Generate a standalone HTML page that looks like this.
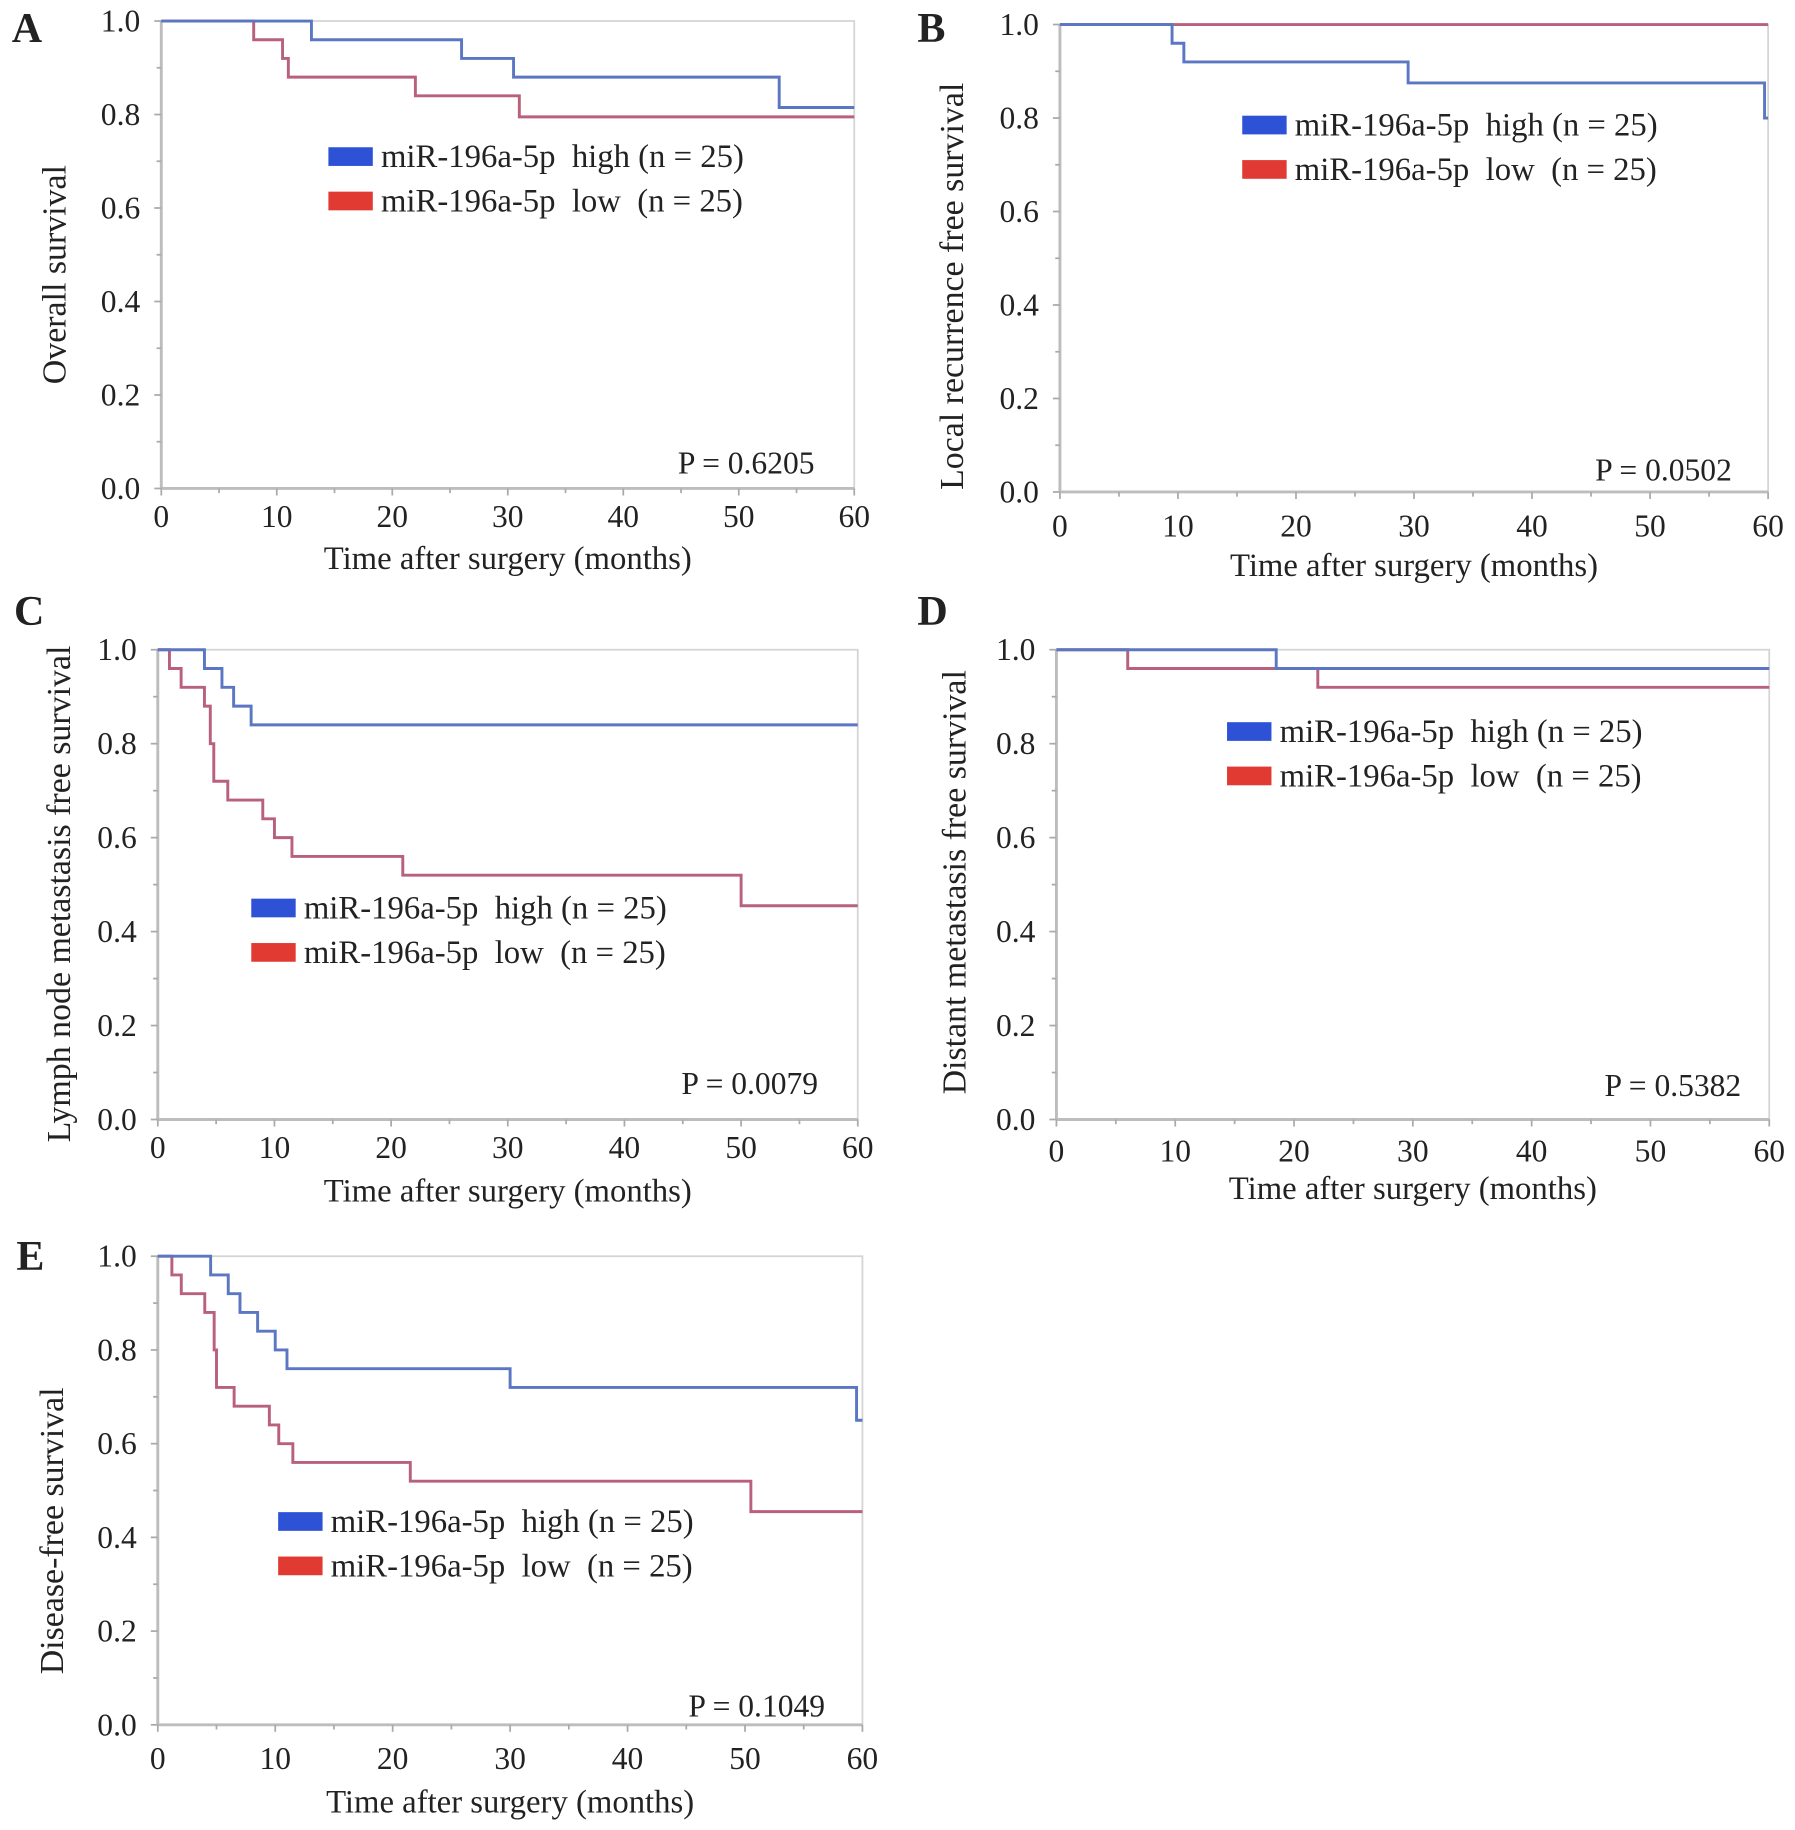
<!DOCTYPE html>
<html><head><meta charset="utf-8"><style>
html,body{margin:0;padding:0;background:#fff}
svg{display:block}
text{font-family:"Liberation Serif",serif;fill:#222;white-space:pre}
</style></head><body>
<svg id="fig" width="1795" height="1830" viewBox="0 0 1536 1566" xmlns="http://www.w3.org/2000/svg"></svg>
<script>
// Data arrays: [time, survival] step points
const xTicks = [0,10,20,30,40,50,60];
const yTicks = [0.0,0.2,0.4,0.6,0.8,1.0];
const aHighT=[0,13,26,30.5,53.5,60], aHighS=[1,0.96,0.92,0.88,0.815,0.815];
const aLowT=[0,8,10.5,11,22,31,60], aLowS=[1,0.96,0.92,0.88,0.84,0.795,0.795];
const bHighT=[0,9.5,10.5,29.5,59.7,60], bHighS=[1,0.96,0.92,0.875,0.8,0.8];
const bLowT=[0,60], bLowS=[1,1];
const cHighT=[0,4,5.5,6.5,8,60], cHighS=[1,0.96,0.92,0.88,0.84,0.84];
const cLowT=[0,1,2,4,4.5,4.8,6,9,10,11.5,21,50,60], cLowS=[1,0.96,0.92,0.88,0.8,0.72,0.68,0.64,0.6,0.56,0.52,0.455,0.455];
const dHighT=[0,18.5,60], dHighS=[1,0.96,0.96];
const dLowT=[0,6,22,60], dLowS=[1,0.96,0.92,0.92];
const eHighT=[0,4.5,6,7,8.5,10,11,30,59.5,60], eHighS=[1,0.96,0.92,0.88,0.84,0.8,0.76,0.72,0.65,0.65];
const eLowT=[0,1.2,2,4,4.8,5,6.5,9.5,10.3,11.5,21.5,50.5,60], eLowS=[1,0.96,0.92,0.88,0.8,0.72,0.68,0.64,0.6,0.56,0.52,0.455,0.455];
const pValues=["P = 0.6205","P = 0.0502","P = 0.0079","P = 0.5382","P = 0.1049"];
const yTitles=["Overall survival","Local recurrence free survival","Lymph node metastasis free survival","Distant metastasis free survival","Disease-free survival"];

const panels=[
 {id:'a',L:'A',lx:10,ly:36,x0:138,x1:731,y1:18,y0:418,tly:451,xl:487,yl:56,ylc:235,lgx:281,lgy:134,px:697,py:405,hT:aHighT,hS:aHighS,lT:aLowT,lS:aLowS},
 {id:'b',L:'B',lx:785,ly:36,x0:907,x1:1513,y1:21,y0:421,tly:459,xl:493,yl:824,ylc:245,lgx:1063,lgy:107,px:1482,py:411,hT:bHighT,hS:bHighS,lT:bLowT,lS:bLowS},
 {id:'c',L:'C',lx:12,ly:535,x0:135,x1:734,y1:556,y0:958,tly:991,xl:1028,yl:60,ylc:765,lgx:215,lgy:777,px:700,py:936,hT:cHighT,hS:cHighS,lT:cLowT,lS:cLowS},
 {id:'d',L:'D',lx:785,ly:535,x0:904,x1:1514,y1:556,y0:958,tly:994,xl:1026,yl:826,ylc:755,lgx:1050,lgy:626,px:1490,py:938,hT:dHighT,hS:dHighS,lT:dLowT,lS:dLowS},
 {id:'e',L:'E',lx:14,ly:1087,x0:135,x1:738,y1:1075,y0:1476,tly:1514,xl:1551,yl:54,ylc:1310,lgx:238,lgy:1302,px:706,py:1469,hT:eHighT,hS:eHighS,lT:eLowT,lS:eLowS}
];
const svg=document.getElementById('fig');
const NS='http://www.w3.org/2000/svg';
function mk(tag,attrs,parent,txt){const e=document.createElementNS(NS,tag);for(const k in attrs)e.setAttribute(k,attrs[k]);if(txt!==undefined)e.textContent=txt;parent.appendChild(e);return e;}
panels.forEach((p,i)=>{
 const g=mk('g',{},svg);
 
 
 const sx=t=>p.x0+(p.x1-p.x0)*t/60;
 const sy=v=>p.y0-(p.y0-p.y1)*v;
 const lab=mk('text',{x:p.lx,y:p.ly,'font-size':36,'font-weight':'bold'},g,p.L);
 
 
 const fr=mk('rect',{x:p.x0,y:p.y1,width:p.x1-p.x0,height:p.y0-p.y1,fill:'none',stroke:'#d4d4d4','stroke-width':1.5},g);
 
 
 mk('line',{x1:p.x0,y1:p.y0,x2:p.x1,y2:p.y0,stroke:'#bdbdbd','stroke-width':2.5},g);
 mk('line',{x1:p.x0,y1:p.y0,x2:p.x0,y2:p.y1,stroke:'#bdbdbd','stroke-width':2.5},g);
 for(let t=0;t<=60;t+=5){mk('line',{x1:sx(t),y1:p.y0,x2:sx(t),y2:p.y0+(t%10==0?6:4),stroke:'#aaa','stroke-width':1.5},g);}
 for(let v=0;v<=10;v++){mk('line',{x1:p.x0,y1:sy(v/10),x2:p.x0-(v%2==0?6:4),y2:sy(v/10),stroke:'#aaa','stroke-width':1.5},g);}
 xTicks.forEach(t=>{const e=mk('text',{x:sx(t),y:p.tly,'font-size':27,'text-anchor':'middle'},g,String(t));
  
  });
 yTicks.forEach(v=>{const e=mk('text',{x:p.x0-18,y:sy(v)+9,'font-size':27,'text-anchor':'end'},g,v.toFixed(1));
  
  });
 const xt=mk('text',{x:(p.x0+p.x1)/2,y:p.xl,'font-size':28,'text-anchor':'middle'},g,'Time after surgery (months)');
 
 
 const yt=mk('text',{x:0,y:0,'font-size':29,'text-anchor':'middle',transform:`translate(${p.yl},${p.ylc}) rotate(-90)`},g,yTitles[i]);
 
 
 function path(T,S){let d=`M${sx(T[0])},${sy(S[0])}`;for(let k=1;k<T.length;k++){d+=` H${sx(T[k])} V${sy(S[k])}`;}return d;}
 const lo=mk('path',{d:path(p.lT,p.lS),fill:'none',stroke:'#b8607c','stroke-width':2.5},g);
 
 
 const hi=mk('path',{d:path(p.hT,p.hS),fill:'none',stroke:'#5b76c2','stroke-width':2.5},g);
 
 
 const s1=mk('rect',{x:p.lgx,y:p.lgy-8,width:38,height:16,fill:'#2d52d6'},g);
 
 
 const t1=mk('text',{x:p.lgx+45,y:p.lgy+9,'font-size':28},g,'miR-196a-5p  high (n = 25)');
 
 
 const s2=mk('rect',{x:p.lgx,y:p.lgy+30,width:38,height:16,fill:'#e03a32'},g);
 
 
 const t2=mk('text',{x:p.lgx+45,y:p.lgy+47,'font-size':28},g,'miR-196a-5p  low  (n = 25)');
 
 
 const pv=mk('text',{x:p.px,y:p.py,'font-size':27,'text-anchor':'end'},g,pValues[i]);
 
 
});
</script>
</body></html>
